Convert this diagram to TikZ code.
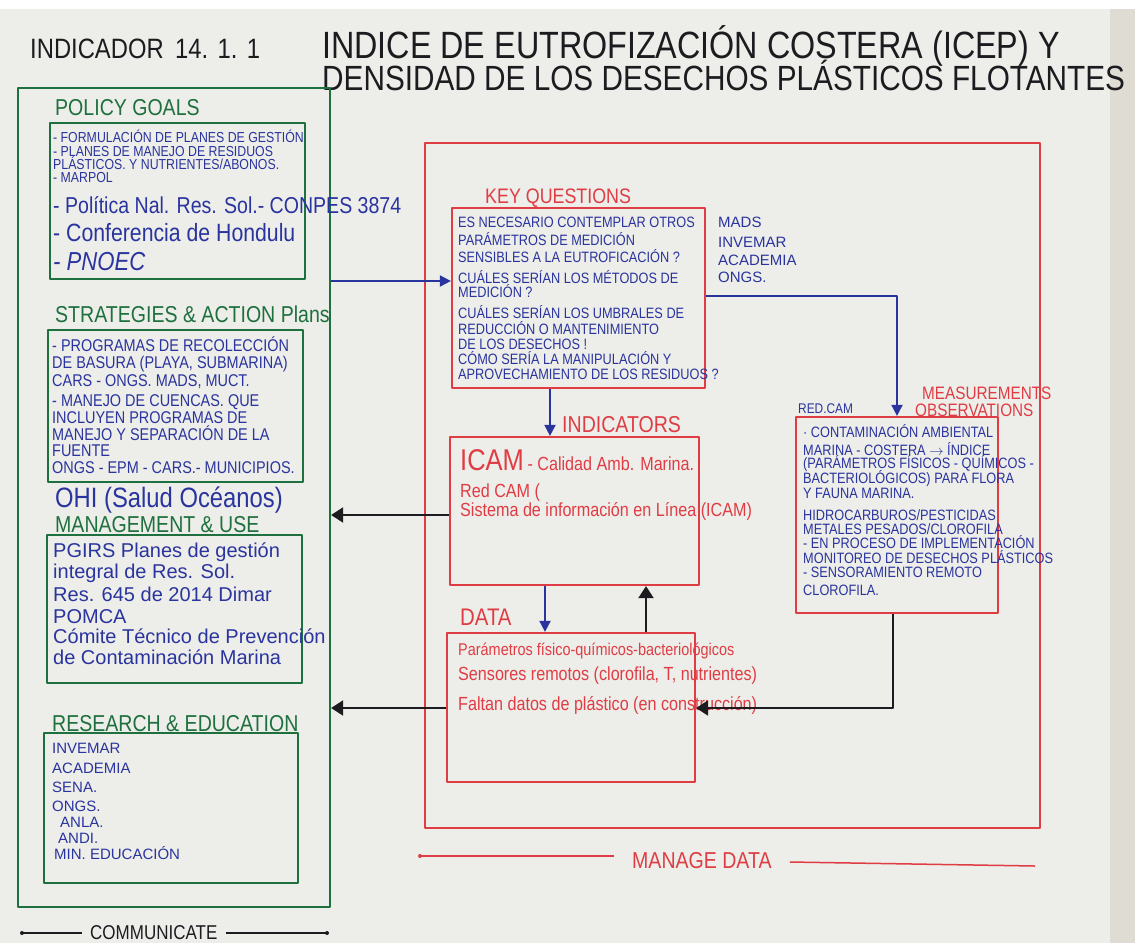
\documentclass[tikz,border=0pt]{standalone}
\usepackage{fontspec}
\setmainfont[FakeStretch=0.85]{Liberation Sans}
\newfontfamily\widehand[FakeStretch=1.0]{Liberation Sans}
\usetikzlibrary{positioning,arrows.meta}
\definecolor{paper}{RGB}{237,237,233}
\definecolor{wall}{RGB}{223,220,212}
\definecolor{inkgreen}{RGB}{30,112,62}
\definecolor{inkblue}{RGB}{42,52,158}
\definecolor{inkred}{RGB}{224,60,68}
\definecolor{inkblack}{RGB}{28,28,32}
\newcommand{\fs}[1]{\fontsize{#1}{#1}\selectfont}
\tikzset{
  gbox/.style={draw=inkgreen, line width=2.2pt, inner sep=0pt},
  rbox/.style={draw=inkred, line width=2.2pt, inner sep=0pt},
  txt/.style={anchor=base west, inner sep=0pt},
  ghead/.style={txt, text=inkgreen, font=\fs{23}},
  rhead/.style={txt, text=inkred, font=\fs{21}},
  capsb/.style={txt, text=inkblue, font=\fs{#1}},
  wideb/.style={txt, text=inkblue, font=\widehand\fs{#1}},
  handb/.style={txt, text=inkblue, font=\fs{23}},
  handr/.style={txt, text=inkred, font=\fs{19}},
  barrow/.style={draw=inkblue, line width=1.8pt, -{Triangle[length=11pt,width=11pt]}},
  karrow/.style={draw=inkblack, line width=2pt, -{Triangle[length=12pt,width=15pt]}}
}

\begin{document}
\begin{tikzpicture}[x=1pt, y=-1pt, line join=round]
  \useasboundingbox (0,0) rectangle (1135,943);
  \fill[paper] (0,0) rectangle (1135,943);
  \fill[white] (0,0) rectangle (1135,9);
  \fill[wall] (1110,9) rectangle (1135,943);

  % title
  \node[txt, text=inkblack, font=\fs{28}] (ttl) at (30,58) {INDICADOR};
  \node[txt, text=inkblack, font=\fs{28}] (num) at (175,58) {14.\,\,1.\,\,1};
  \node[txt, text=inkblack, font=\fs{38}, text depth=0pt] (sub1) at (322,58) {INDICE DE EUTROFIZACIÓN COSTERA (ICEP) Y};
  \node[txt, text=inkblack, font=\fs{35}, text height=26pt] (sub2) at (322,90) {DENSIDAD DE LOS DESECHOS PLÁSTICOS FLOTANTES};

  % communicate side
  \node[gbox, minimum width=312, minimum height=819] (comm) at (174,497.5) {};
  \node[gbox, minimum width=255, minimum height=156] (policy) at (177.5,201) {};
  \node[gbox, minimum width=255, minimum height=152] (strat) at (175.5,406) {};
  \node[gbox, minimum width=255, minimum height=148] (mgmt) at (174.5,609) {};
  \node[gbox, minimum width=254, minimum height=150] (research) at (171,808) {};

  \node[ghead] (pgh) at (55,115) {POLICY GOALS};
  \foreach \y/\t in {142/{- FORMULACIÓN DE PLANES DE GESTIÓN}, 156/{- PLANES DE MANEJO DE RESIDUOS},
      169/{PLÁSTICOS. Y NUTRIENTES/ABONOS.}, 182/{- MARPOL}}
    \node[capsb=14.5] (pg\y) at (53,\y) {\t};
  \node[handb] (pg5) at (53,213) {- Política Nal. Res. Sol.- CONPES 3874};
  \node[handb, font=\fs{25}] (pg6) at (53,241) {- Conferencia de Hondulu};
  \node[handb, font=\fs{26}\itshape] (pg7) at (53,270) {- PNOEC};

  \node[ghead] (sth) at (55,322) {STRATEGIES \& ACTION Plans};
  \foreach \y/\t in {351/{- PROGRAMAS DE RECOLECCIÓN}, 368/{DE BASURA (PLAYA, SUBMARINA)},
      386/{CARS - ONGS. MADS, MUCT.}, 406/{- MANEJO DE CUENCAS. QUE}, 423/{INCLUYEN PROGRAMAS DE},
      440/{MANEJO Y SEPARACIÓN DE LA}, 456/{FUENTE}, 473/{ONGS - EPM - CARS.- MUNICIPIOS.}}
    \node[capsb=17] (st\y) at (52,\y) {\t};
  \node[handb, font=\fs{28}] (ohi) at (55,507) {OHI (Salud Océanos)};

  \node[ghead] (mgh) at (55,532) {MANAGEMENT \& USE};
  \foreach \y/\t in {557/{PGIRS Planes de gestión}, 578/{integral de Res. Sol.},
      601/{Res. 645 de 2014 Dimar}, 623/{POMCA}, 643/{Cómite Técnico de Prevención},
      664/{de Contaminación Marina}}
    \node[wideb=20] (mg\y) at (53,\y) {\t};

  \node[ghead] (reh) at (52,731) {RESEARCH \& EDUCATION};
  \foreach \y/\x/\t in {753/52/INVEMAR, 773/52/ACADEMIA, 792/52/SENA., 811/52/ONGS.,
      827/60/ANLA., 843/58/ANDI., 859/54/MIN. EDUCACIÓN}
    \node[wideb=15] (re\y) at (\x,\y) {\t};

  \node[txt, text=inkblack, font=\fs{20}] (commlbl) at (90,939) {COMMUNICATE};
  \coordinate (cl) at (22,933);
  \coordinate (cr) at (327,933);
  \draw[inkblack, line width=1.3pt] (cl) -- ([xshift=-8pt]commlbl.west |- cl);
  \draw[inkblack, line width=1.3pt] ([xshift=8pt]commlbl.east |- cr) -- (cr);
  \fill[inkblack] (cl) circle (2) (cr) circle (2);

  % manage data side
  \node[rbox, minimum width=615, minimum height=685] (manage) at (732.5,485.5) {};
  \node[rbox, minimum width=253, minimum height=180] (keyq) at (578.5,298) {};
  \node[rbox, minimum width=249, minimum height=148] (indic) at (574.5,511) {};
  \node[rbox, minimum width=248, minimum height=149] (data) at (571,707.5) {};
  \node[rbox, minimum width=202, minimum height=196] (meas) at (897,515) {};

  \node[rhead] (kqh) at (485,203) {KEY QUESTIONS};
  \foreach \y/\t in {227/{ES NECESARIO CONTEMPLAR OTROS}, 245/{PARÁMETROS DE MEDICIÓN},
      262/{SENSIBLES A LA EUTROFICACIÓN ?}, 283/{CUÁLES SERÍAN LOS MÉTODOS DE},
      297/{MEDICIÓN ?}, 318/{CUÁLES SERÍAN LOS UMBRALES DE}, 334/{REDUCCIÓN O MANTENIMIENTO},
      349/{DE LOS DESECHOS !}, 364/{CÓMO SERÍA LA MANIPULACIÓN Y},
      379/{APROVECHAMIENTO DE LOS RESIDUOS ?}}
    \node[capsb=15] (kq\y) at (458,\y) {\t};
  \foreach \y/\t in {227/MADS, 247/INVEMAR, 265/ACADEMIA, 282/ONGS.}
    \node[wideb=15] (ac\y) at (718,\y) {\t};

  \node[rhead, font=\fs{23}] (inh) at (562,432) {INDICATORS};
  \node[handr, font=\fs{30}] (in1) at (460,470) {ICAM};
  \node[handr, anchor=base west] (in1b) at (in1.base east) {\,- Calidad Amb. Marina.};
  \node[handr] (in2) at (460,497) {Red CAM (};
  \node[handr] (in3) at (460,516) {Sistema de información en Línea (ICAM)};

  \node[rhead, font=\fs{24}] (dah) at (460,625) {DATA};
  \node[handr, font=\fs{17}] (da1) at (458,655) {Parámetros físico-químicos-bacteriológicos};
  \node[handr] (da2) at (458,680) {Sensores remotos (clorofila, T, nutrientes)};
  \node[handr] (da3) at (458,710) {Faltan datos de plástico (en construcción)};

  \node[rhead, font=\fs{18}] (meh1) at (922,399) {MEASUREMENTS};
  \node[rhead, font=\fs{18}] (meh2) at (915,416) {OBSERVATIONS};
  \node[capsb=14] (redcam) at (798,413) {RED.CAM};
  \foreach \y/\t in {437/{· CONTAMINACIÓN AMBIENTAL}, 455/{MARINA - COSTERA $\rightarrow$ ÍNDICE},
      468/{(PARÁMETROS FÍSICOS - QUÍMICOS -}, 483/{BACTERIOLÓGICOS) PARA FLORA},
      498/{Y FAUNA MARINA.}, 520/{HIDROCARBUROS/PESTICIDAS}, 534/{METALES PESADOS/CLOROFILA},
      548/{- EN PROCESO DE IMPLEMENTACIÓN}, 563/{MONITOREO DE DESECHOS PLÁSTICOS},
      577/{- SENSORAMIENTO REMOTO}, 595/{CLOROFILA.}}
    \node[capsb=15] (me\y) at (803,\y) {\t};

  \node[rhead, font=\fs{23}] (mdlbl) at (632,868) {MANAGE DATA};
  \coordinate (ml) at (420,856);
  \coordinate (mr) at (1035,866);
  \draw[inkred, line width=1.5pt] (ml) -- ([xshift=-18pt]mdlbl.west |- ml);
  \draw[inkred, line width=1.5pt] ([xshift=18pt]mdlbl.east |- 0,862) -- (mr);
  \fill[inkred] (ml) circle (2);

  % connectors
  \draw[barrow] (comm.east |- 0,281) -- (keyq.west |- 0,281);
  \draw[barrow] (keyq.east |- 0,296) -| (meas.north);
  \draw[barrow] (keyq.south -| 550,0) -- (indic.north -| 550,0);
  \draw[barrow] (indic.south -| 545,0) -- (data.north -| 545,0);
  \draw[karrow] (data.north -| 646,0) -- (indic.south -| 646,0);
  \draw[karrow] (indic.west |- 0,515) -- (comm.east |- 0,515);
  \draw[karrow] (data.west |- 0,708) -- (comm.east |- 0,708);
  \draw[karrow] (meas.south -| 893,0) |- (data.east |- 0,708);
\end{tikzpicture}
\end{document}
